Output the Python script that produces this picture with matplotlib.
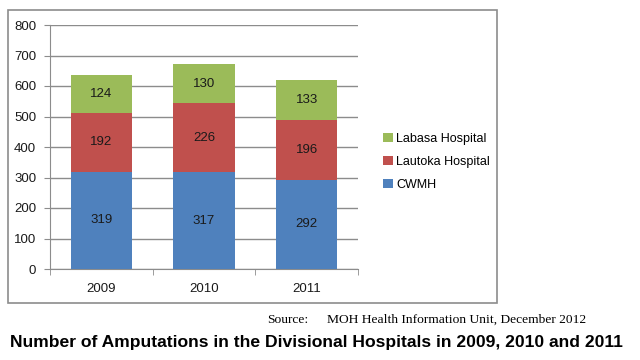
import numpy as np
import matplotlib.pyplot as plt
import matplotlib.patches as mpatches

years = ["2009", "2010", "2011"]
cwmh = [319, 317, 292]
lautoka = [192, 226, 196]
labasa = [124, 130, 133]

series = [
    ("CWMH", cwmh, "#4F81BD"),
    ("Lautoka Hospital", lautoka, "#C0504D"),
    ("Labasa Hospital", labasa, "#9BBB59"),
]

fig = plt.figure(figsize=(6.4, 3.6), dpi=100)
fig.patch.set_facecolor("white")

# outer chart frame
fig.patches.append(mpatches.Rectangle((8 / 640, 1 - 303 / 360), 489 / 640, 293 / 360,
                                      transform=fig.transFigure, fill=False,
                                      edgecolor="#8c8c8c", linewidth=1.2))

ax = fig.add_axes([50 / 640, 1 - 269 / 360, 308 / 640, 244 / 360])
x = np.arange(len(years))
bottom = np.zeros(len(years))
handles = []
for name, vals, color in series:
    bars = ax.bar(x, vals, width=0.6, bottom=bottom, color=color, label=name, zorder=3)
    for xi, b, v in zip(x, bottom, vals):
        ax.text(xi, b + v / 2, str(v), ha="center", va="center",
                fontsize=9.5, color="#1a1a1a", family="Liberation Sans", zorder=4)
    bottom += np.array(vals)
    handles.append(bars)

ax.set_xlim(-0.5, 2.5)
ax.set_ylim(0, 800)
ax.set_yticks(np.arange(0, 801, 100))
ax.grid(axis="y", color="#8c8c8c", linewidth=1, zorder=0)
ax.set_xticks(x)
ax.set_xticklabels(years)
ax.set_xticks([-0.5, 0.5, 1.5, 2.5], minor=True)
ax.tick_params(axis="x", which="major", length=0, pad=10)
ax.tick_params(axis="x", which="minor", length=4, color="#8c8c8c")
ax.tick_params(axis="y", length=4, color="#8c8c8c", pad=6)
for lbl in ax.get_xticklabels() + ax.get_yticklabels():
    lbl.set_family("Liberation Sans")
    lbl.set_fontsize(9.5)
    lbl.set_color("#1a1a1a")
for s in ["top", "right"]:
    ax.spines[s].set_visible(False)
for s in ["left", "bottom"]:
    ax.spines[s].set_color("#8c8c8c")

leg = fig.legend(handles[::-1], [s[0] for s in series][::-1],
                 loc="upper left", bbox_to_anchor=(372 / 640, 1 - 122 / 360),
                 frameon=False, prop={"family": "Liberation Sans", "size": 9},
                 handlelength=0.75, handleheight=0.75, handletextpad=0.3,
                 labelspacing=0.85)

fig.text(267 / 640, 1 - 320 / 360, "Source:", family="Liberation Serif",
         fontsize=9.7, va="center", ha="left")
fig.text(327 / 640, 1 - 320 / 360, "MOH Health Information Unit, December 2012",
         family="Liberation Serif", fontsize=9.7, va="center", ha="left")
fig.text(316 / 640, 1 - 343 / 360,
         "Number of Amputations in the Divisional Hospitals in 2009, 2010 and 2011",
         family="Liberation Sans", fontweight="bold", fontsize=12.6,
         va="center", ha="center")

fig.savefig("out.png", dpi=100)
